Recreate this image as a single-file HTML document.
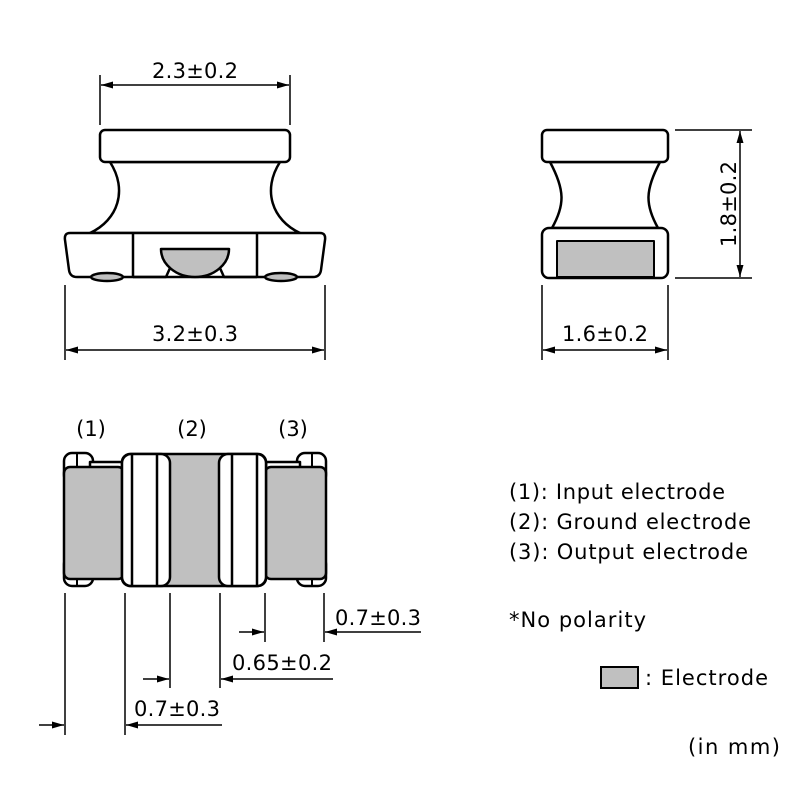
<!DOCTYPE html>
<html><head><meta charset="utf-8"><style>
html,body{margin:0;padding:0;background:#fff;}
svg{display:block;}
text{font-family:"DejaVu Sans","Liberation Sans",sans-serif;font-size:21px;fill:#000;}
</style></head><body>
<svg width="800" height="800" viewBox="0 0 800 800" xmlns="http://www.w3.org/2000/svg">
<defs>
<marker id="a" markerWidth="12" markerHeight="8" refX="12" refY="4" orient="auto" markerUnits="userSpaceOnUse"><path d="M0,0.5 L12,4 L0,7.5 Z" fill="#000"/></marker>
</defs>
<g stroke="#000" stroke-width="2.5" fill="#fff" stroke-linejoin="round">
<path d="M110,162 C128,190 118,220 90,233 L300,233 C272,220 262,190 280,162 Z"/>
<rect x="100" y="130" width="190" height="32" rx="5"/>
<path d="M70,233 L320,233 Q326,233 325,240 L321,270 Q320,277 313,277 L77,277 Q70,277 69,270 L65,240 Q64,233 70,233 Z"/>
<line x1="133" y1="233" x2="133" y2="277"/>
<line x1="257" y1="233" x2="257" y2="277"/>
<path d="M161,249 L229,249 A34,28 0 0 1 161,249 Z" fill="#c0c0c0"/>
<path d="M133,277 L166,277 L170,268 M220,268 L224,277 L257,277" fill="none"/>
<ellipse cx="107" cy="277" rx="16" ry="4" fill="#c0c0c0"/>
<ellipse cx="281" cy="277" rx="16" ry="4" fill="#c0c0c0"/>
<path d="M550,162 C565,190 565,205 552,228 L658,228 C645,205 645,190 660,162 Z"/>
<rect x="542" y="130" width="126" height="32" rx="5"/>
<rect x="542" y="228" width="126" height="50" rx="7"/>
<rect x="557" y="241" width="97" height="36" fill="#c0c0c0" stroke-width="2"/>
<rect x="64" y="453" width="29" height="30" rx="8"/>
<rect x="64" y="556" width="29" height="30" rx="8"/>
<rect x="297" y="453" width="29" height="30" rx="8"/>
<rect x="297" y="556" width="29" height="30" rx="8"/>
<line x1="77" y1="454" x2="77" y2="468" stroke-width="2"/>
<line x1="77" y1="570" x2="77" y2="585" stroke-width="2"/>
<line x1="312" y1="454" x2="312" y2="468" stroke-width="2"/>
<line x1="312" y1="570" x2="312" y2="585" stroke-width="2"/>
<rect x="90" y="462" width="34" height="115" fill="#fff"/>
<rect x="266" y="462" width="34" height="115" fill="#fff"/>
<rect x="64" y="467" width="60" height="112" rx="6" fill="#c0c0c0"/>
<rect x="265" y="467" width="61" height="112" rx="6" fill="#c0c0c0"/>
<rect x="122" y="454" width="144" height="132" rx="8" fill="#c0c0c0"/>
<rect x="122" y="454" width="48" height="132" rx="9"/>
<rect x="219" y="454" width="47" height="132" rx="9"/>
<line x1="132" y1="455" x2="132" y2="585"/>
<line x1="157" y1="455" x2="157" y2="585"/>
<line x1="232" y1="455" x2="232" y2="585"/>
<line x1="257" y1="455" x2="257" y2="585"/>
</g>
<g stroke="#000" stroke-width="1.5" fill="none">
<line x1="100" y1="75" x2="100" y2="125"/><line x1="290" y1="75" x2="290" y2="125"/>
<line x1="150" y1="85" x2="101" y2="85" marker-end="url(#a)"/><line x1="150" y1="85" x2="289" y2="85" marker-end="url(#a)"/>
<line x1="65" y1="285" x2="65" y2="360"/><line x1="325" y1="285" x2="325" y2="360"/>
<line x1="200" y1="350" x2="66" y2="350" marker-end="url(#a)"/><line x1="200" y1="350" x2="324" y2="350" marker-end="url(#a)"/>
<line x1="542" y1="285" x2="542" y2="360"/><line x1="668" y1="285" x2="668" y2="360"/>
<line x1="600" y1="350" x2="543" y2="350" marker-end="url(#a)"/><line x1="600" y1="350" x2="667" y2="350" marker-end="url(#a)"/>
<line x1="675" y1="130" x2="752" y2="130"/><line x1="675" y1="278" x2="752" y2="278"/>
<line x1="740" y1="200" x2="740" y2="131" marker-end="url(#a)"/><line x1="740" y1="200" x2="740" y2="277" marker-end="url(#a)"/>
<line x1="65" y1="593" x2="65" y2="735"/><line x1="125" y1="593" x2="125" y2="735"/>
<line x1="170" y1="593" x2="170" y2="688"/><line x1="220" y1="593" x2="220" y2="688"/>
<line x1="265" y1="593" x2="265" y2="642"/><line x1="324" y1="593" x2="324" y2="642"/>
<line x1="239" y1="632" x2="264" y2="632" marker-end="url(#a)"/><line x1="421" y1="632" x2="325" y2="632" marker-end="url(#a)"/>
<line x1="143" y1="679" x2="169" y2="679" marker-end="url(#a)"/><line x1="333" y1="679" x2="221" y2="679" marker-end="url(#a)"/>
<line x1="39" y1="725" x2="64" y2="725" marker-end="url(#a)"/><line x1="222" y1="725" x2="126" y2="725" marker-end="url(#a)"/>
</g>
<text x="195" y="78" text-anchor="middle" textLength="86">2.3±0.2</text>
<text x="195" y="341" text-anchor="middle" textLength="86">3.2±0.3</text>
<text x="605" y="341" text-anchor="middle" textLength="86">1.6±0.2</text>
<text transform="translate(736,204) rotate(-90)" text-anchor="middle" textLength="86">1.8±0.2</text>
<text x="91" y="436" text-anchor="middle">(1)</text>
<text x="192" y="436" text-anchor="middle">(2)</text>
<text x="293" y="436" text-anchor="middle">(3)</text>
<text x="378" y="625" text-anchor="middle" textLength="86">0.7±0.3</text>
<text x="282" y="670" text-anchor="middle" textLength="100">0.65±0.2</text>
<text x="177" y="716" text-anchor="middle" textLength="86">0.7±0.3</text>
<text x="509" y="499" textLength="216">(1): Input electrode</text>
<text x="509" y="529" textLength="242">(2): Ground electrode</text>
<text x="509" y="559" textLength="239">(3): Output electrode</text>
<text x="509" y="627" textLength="137">*No polarity</text>
<rect x="601" y="667" width="37" height="21" fill="#c0c0c0" stroke="#000" stroke-width="2"/>
<text x="645" y="685" textLength="123">: Electrode</text>
<text x="688" y="754" textLength="92">(in mm)</text>
</svg>
</body></html>
